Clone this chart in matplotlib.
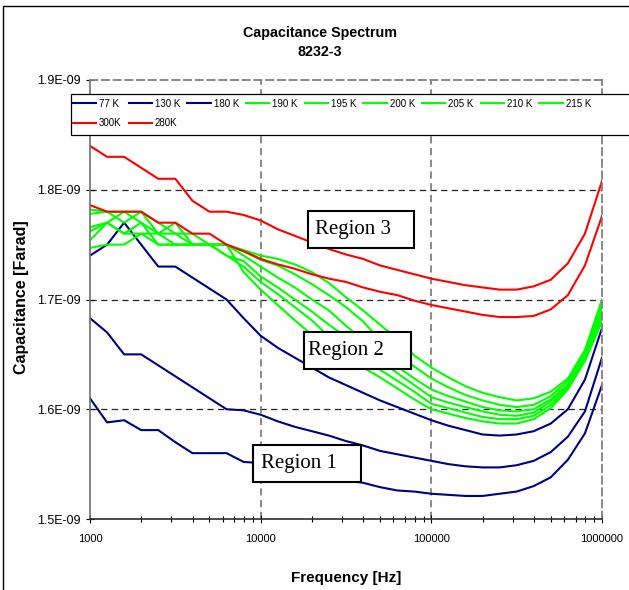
import matplotlib.pyplot as plt
from matplotlib.patches import Rectangle
from matplotlib.ticker import FixedLocator, FuncFormatter, LogLocator, NullFormatter

plt.rcParams['font.family'] = ['Liberation Sans', 'DejaVu Sans']

# Frequency sweep (Hz), 10 points per decade
freq = [1000, 1259, 1585, 1995, 2512, 3162, 3981, 5012, 6310, 7943,
        10000, 12589, 15849, 19953, 25119, 31623, 39811, 50119, 63096, 79433,
        100000, 125893, 158489, 199526, 251189, 316228, 398107, 501187, 630957, 794328,
        1000000]

# Capacitance in units of 1E-09 F
c_77 = [1.610, 1.588, 1.590, 1.581, 1.581, 1.570, 1.560, 1.560, 1.560, 1.552,
        1.551, 1.547, 1.544, 1.541, 1.537, 1.535, 1.533, 1.529, 1.526, 1.525,
        1.523, 1.522, 1.521, 1.521, 1.523, 1.525, 1.530, 1.538, 1.554, 1.578,
        1.622]
c_130 = [1.683, 1.670, 1.650, 1.650, 1.640, 1.630, 1.620, 1.610, 1.600, 1.599,
         1.595, 1.589, 1.584, 1.580, 1.576, 1.571, 1.567, 1.562, 1.559, 1.556,
         1.553, 1.550, 1.548, 1.547, 1.547, 1.549, 1.553, 1.561, 1.575, 1.598,
         1.647]
c_180 = [1.740, 1.750, 1.770, 1.750, 1.730, 1.730, 1.720, 1.710, 1.700, 1.683,
         1.667, 1.656, 1.647, 1.638, 1.629, 1.622, 1.615, 1.608, 1.602, 1.596,
         1.590, 1.585, 1.581, 1.577, 1.576, 1.577, 1.580, 1.587, 1.600, 1.627,
         1.674]
c_190 = [1.747, 1.750, 1.750, 1.760, 1.750, 1.750, 1.750, 1.750, 1.750, 1.725,
         1.709, 1.695, 1.681, 1.668, 1.658, 1.648, 1.638, 1.629, 1.619, 1.609,
         1.600, 1.596, 1.592, 1.589, 1.587, 1.587, 1.591, 1.601, 1.618, 1.644,
         1.680]
c_195 = [1.754, 1.770, 1.760, 1.770, 1.750, 1.750, 1.750, 1.750, 1.740, 1.730,
         1.716, 1.705, 1.693, 1.681, 1.666, 1.656, 1.646, 1.636, 1.626, 1.616,
         1.605, 1.601, 1.597, 1.593, 1.591, 1.591, 1.594, 1.604, 1.619, 1.646,
         1.684]
c_200 = [1.762, 1.770, 1.760, 1.760, 1.760, 1.750, 1.750, 1.750, 1.740, 1.735,
         1.721, 1.711, 1.700, 1.689, 1.677, 1.666, 1.654, 1.644, 1.633, 1.622,
         1.611, 1.606, 1.602, 1.598, 1.595, 1.594, 1.597, 1.607, 1.621, 1.648,
         1.688]
c_205 = [1.766, 1.770, 1.780, 1.770, 1.760, 1.760, 1.750, 1.750, 1.750, 1.740,
         1.730, 1.720, 1.711, 1.700, 1.690, 1.676, 1.663, 1.651, 1.639, 1.628,
         1.618, 1.612, 1.607, 1.602, 1.599, 1.598, 1.600, 1.609, 1.623, 1.649,
         1.691]
c_210 = [1.782, 1.780, 1.770, 1.780, 1.760, 1.770, 1.750, 1.750, 1.750, 1.744,
         1.736, 1.731, 1.723, 1.714, 1.704, 1.693, 1.680, 1.663, 1.651, 1.639,
         1.628, 1.620, 1.613, 1.608, 1.604, 1.602, 1.604, 1.612, 1.626, 1.652,
         1.695]
c_215 = [1.778, 1.780, 1.780, 1.780, 1.770, 1.760, 1.760, 1.750, 1.750, 1.745,
         1.740, 1.737, 1.732, 1.725, 1.715, 1.702, 1.690, 1.677, 1.664, 1.649,
         1.638, 1.629, 1.621, 1.615, 1.611, 1.608, 1.610, 1.616, 1.628, 1.654,
         1.700]
c_300 = [1.840, 1.830, 1.830, 1.820, 1.810, 1.810, 1.790, 1.780, 1.780, 1.777,
         1.772, 1.764, 1.758, 1.752, 1.746, 1.741, 1.737, 1.731, 1.727, 1.723,
         1.719, 1.716, 1.713, 1.711, 1.709, 1.709, 1.712, 1.718, 1.733, 1.760,
         1.808]
c_280 = [1.786, 1.780, 1.780, 1.780, 1.770, 1.770, 1.760, 1.760, 1.750, 1.744,
         1.737, 1.732, 1.728, 1.723, 1.719, 1.716, 1.711, 1.707, 1.704, 1.699,
         1.695, 1.692, 1.689, 1.686, 1.684, 1.684, 1.685, 1.691, 1.704, 1.731,
         1.776]

series = [
    ('77 K', c_77, '#000080'),
    ('130 K', c_130, '#000080'),
    ('180 K', c_180, '#000080'),
    ('190 K', c_190, '#00FF00'),
    ('195 K', c_195, '#00FF00'),
    ('200 K', c_200, '#00FF00'),
    ('205 K', c_205, '#00FF00'),
    ('210 K', c_210, '#00FF00'),
    ('215 K', c_215, '#00FF00'),
    ('300K', c_300, '#FF0000'),
    ('280K', c_280, '#FF0000'),
]

y_ticks = [1.5e-9, 1.6e-9, 1.7e-9, 1.8e-9, 1.9e-9]

fig = plt.figure(figsize=(6.29, 5.90), dpi=100)
ax = fig.add_axes([90 / 629, 1 - 519 / 590, 512 / 629, 439 / 590])

lines = {}
for label, vals, color in series:
    ln, = ax.plot(freq, [v * 1e-9 for v in vals], color=color, lw=1.5, label=label)
    lines[label] = ln

ax.set_xscale('log')
ax.set_xlim(1000, 1000000)
ax.set_ylim(1.5e-9, 1.9e-9)
ax.yaxis.set_major_locator(FixedLocator(y_ticks))
ax.yaxis.set_major_formatter(FuncFormatter(lambda v, p: f"{v:.1E}"))
ax.xaxis.set_major_locator(LogLocator(base=10))
ax.xaxis.set_minor_locator(LogLocator(base=10, subs=range(2, 10)))
ax.xaxis.set_major_formatter(FuncFormatter(lambda v, p: f"{int(round(v))}"))
ax.xaxis.set_minor_formatter(NullFormatter())
ax.tick_params(axis='both', which='major', direction='inout', length=6, width=0.8,
               color='black')
ax.tick_params(axis='x', which='minor', direction='inout', length=4, width=0.8)
ax.tick_params(axis='x', which='major', pad=8, labelsize=8)
ax.tick_params(axis='y', which='major', pad=4, labelsize=9)

# dashed gridlines, gray frame on top/right
for yv in y_ticks[1:4]:
    ax.axhline(yv, color='#222222', lw=0.9, ls=(0, (5, 3.5)), zorder=0.5)
for xv in [1e4, 1e5]:
    ax.axvline(xv, color='#808080', lw=1.3, ls=(0, (4, 2.5)), zorder=0.5)
for side in ['top', 'right']:
    ax.spines[side].set_color('#808080')
    ax.spines[side].set_linewidth(1.3)
    ax.spines[side].set_linestyle((0, (4, 2.5)))
ax.spines['left'].set_color('#707070')
ax.spines['left'].set_linewidth(1.2)
ax.spines['bottom'].set_color('#303030')
ax.spines['bottom'].set_linewidth(1.2)

# region labels
regions = [
    ('Region 3', 0.4252, 0.6166, 0.2082, 0.0850, 0.4395),
    ('Region 2', 0.4180, 0.3410, 0.2090, 0.0861, 0.4258),
    ('Region 1', 0.3189, 0.0843, 0.2104, 0.0843, 0.3340),
]
for text, x0, y0, w, h, tx in regions:
    ax.add_patch(Rectangle((x0, y0), w, h, transform=ax.transAxes, facecolor='white',
                           edgecolor='black', lw=1.5, zorder=5))
    ax.text(tx, y0 + h / 2, text, transform=ax.transAxes, ha='left', va='center',
            fontsize=15, family='Liberation Serif', zorder=6)

# legend: two rows, filled row by row; its frame runs past the right edge
legend_box = Rectangle((71 / 629, 1 - 135 / 590), 600 / 629, 41 / 590,
                       transform=fig.transFigure, facecolor='white', edgecolor='black',
                       lw=0.9, zorder=6)
ax.add_patch(legend_box)
legend_box.set_clip_on(False)

order = ['77 K', '300K', '130 K', '280K', '180 K', '190 K', '195 K', '200 K',
         '205 K', '210 K', '215 K']
leg = ax.legend([lines[k] for k in order], order, ncol=9, loc='upper left',
                bbox_to_anchor=(68 / 629, 1 - 94 / 590), bbox_transform=fig.transFigure,
                fontsize=7.0, handlelength=2.4, handletextpad=0.3, columnspacing=0.72,
                labelspacing=0.95, borderpad=0.5, borderaxespad=0, frameon=False)
leg.set_zorder(7)

fig.text(320 / 629, 1 - 33 / 590, 'Capacitance Spectrum', ha='center', va='center',
         fontsize=10.3, weight='bold')
fig.text(320 / 629, 1 - 52 / 590, '8232-3', ha='center', va='center',
         fontsize=10.3, weight='bold')
fig.text(346 / 629, 1 - 578 / 590, 'Frequency [Hz]', ha='center', va='center',
         fontsize=11, weight='bold')
fig.text(22 / 629, 1 - 297 / 590, 'Capacitance [Farad]', ha='center', va='center',
         rotation=90, fontsize=11.5, weight='bold')

# outer chart border
fig.patches.append(Rectangle((3 / 629, -0.1), 1.1, 1 - 6 / 590 + 0.1,
                             transform=fig.transFigure, fill=False, ec='black', lw=1.0))

fig.savefig('out.png', dpi=100)
